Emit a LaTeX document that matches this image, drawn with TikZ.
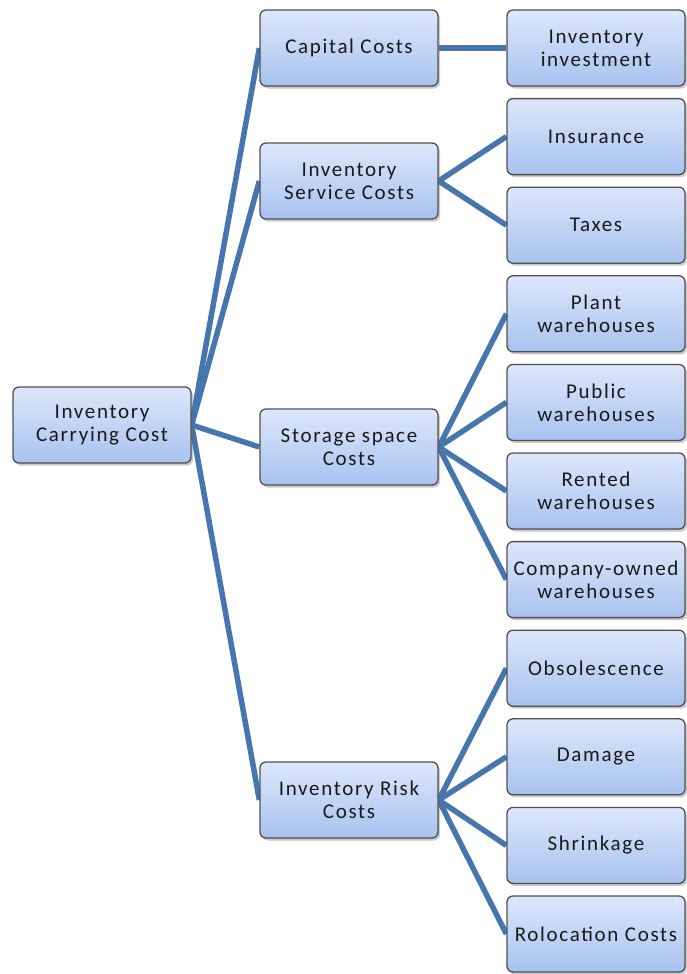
\documentclass[tikz,border=0pt]{standalone}
\usepackage{fontspec}
\setmainfont[LetterSpace=8]{Carlito}
\usetikzlibrary{shadows,backgrounds}
\definecolor{linkblue}{HTML}{4676AE}
\definecolor{boxtop}{HTML}{DDE7FB}
\definecolor{boxbot}{HTML}{A8C2EF}
\definecolor{boxedge}{HTML}{505050}
\tikzset{
  box/.style={draw=boxedge, line width=1.3pt, rounded corners=6pt,
    top color=boxtop, bottom color=boxbot,
    minimum width=178pt, minimum height=76pt, inner sep=0pt,
    align=center, font=\fontsize{21}{23}\selectfont, text=black!90,
    drop shadow={shadow xshift=2pt, shadow yshift=-2.5pt, opacity=0.35, fill=black!60}},
  link/.style={draw=linkblue, line width=5.5pt}
}
\begin{document}
\begin{tikzpicture}[x=1pt,y=-1pt]
\useasboundingbox (0,0) rectangle (686,974);
\node[box] (root) at (102,425) {Inventory\\Carrying Cost};
\node[box] (cap) at (349,48) {Capital Costs};
\node[box] (svc) at (349,181) {Inventory\\Service Costs};
\node[box] (sto) at (349,447) {Storage space\\Costs};
\node[box] (risk) at (349,800) {Inventory Risk\\Costs};
\node[box] (l1) at (596,48) {Inventory\\investment};
\node[box] (l2) at (596,136.6) {Insurance};
\node[box] (l3) at (596,225.2) {Taxes};
\node[box] (l4) at (596,313.8) {Plant\\warehouses};
\node[box] (l5) at (596,402.4) {Public\\warehouses};
\node[box] (l6) at (596,491) {Rented\\warehouses};
\node[box] (l7) at (596,579.6) {Company-owned\\warehouses};
\node[box] (l8) at (596,668.2) {Obsolescence};
\node[box] (l9) at (596,756.8) {Damage};
\node[box] (l10) at (596,845.4) {Shrinkage};
\node[box] (l11) at (596,934) {Rolocation Costs};
\begin{scope}[on background layer]
\foreach \m in {cap,svc,sto,risk} \draw[link] (root.east) -- (\m.west);
\draw[link] (cap.east) -- (l1.west);
\foreach \l in {l2,l3} \draw[link] (svc.east) -- (\l.west);
\foreach \l in {l4,l5,l6,l7} \draw[link] (sto.east) -- (\l.west);
\foreach \l in {l8,l9,l10,l11} \draw[link] (risk.east) -- (\l.west);
\end{scope}
\end{tikzpicture}
\end{document}
